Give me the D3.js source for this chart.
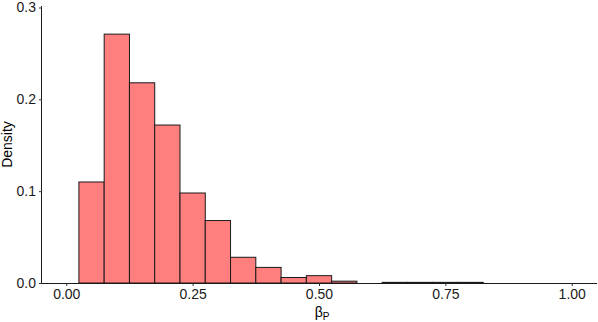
<!DOCTYPE html>
<html>
<head>
<meta charset="utf-8">
<script src="https://cdn.jsdelivr.net/npm/d3@7"></script>
<style>
  body { margin: 0; background: #fff; }
  text { font-family: "Liberation Sans", Arial, sans-serif; }
</style>
</head>
<body>
<div id="chart"></div>
<script>
// bin edges (left) and heights
const binStarts = [0.025, 0.075, 0.125, 0.175, 0.225, 0.275, 0.325, 0.375, 0.425, 0.475, 0.525, 0.575, 0.625, 0.675, 0.725, 0.775];
const densities = [0.110, 0.271, 0.218, 0.172, 0.098, 0.068, 0.028, 0.017, 0.006, 0.008, 0.002, 0, 0.0007, 0.0007, 0.0007, 0.0007];
const binWidth = 0.05;
const xTicks = [0, 0.25, 0.5, 0.75, 1.0];
const yTicks = [0, 0.1, 0.2, 0.3];

const width = 598, height = 322;
const plotLeft = 42, plotRight = 597, plotTop = 6, plotBottom = 283;

const svg = d3.select("#chart").append("svg")
    .attr("width", width)
    .attr("height", height);

const x = d3.scaleLinear()
    .domain([-0.048, 1.05])
    .range([plotLeft, plotRight]);

const y = d3.scaleLinear()
    .domain([0, 0.3])
    .range([plotBottom, 7.5]);

const bins = binStarts.map((s, i) => ({ x0: s, x1: s + binWidth, v: densities[i] }));

// bars
svg.append("g")
    .selectAll("rect")
    .data(bins.filter(d => d.v > 0))
    .enter()
    .append("rect")
    .attr("x", d => x(d.x0))
    .attr("y", d => y(d.v))
    .attr("width", d => x(d.x1) - x(d.x0))
    .attr("height", d => y(0) - y(d.v))
    .attr("fill", "#ff7f7f")
    .attr("stroke", "#1a1a1a")
    .attr("stroke-width", 1);

// x axis
const xAxis = svg.append("g")
    .attr("transform", `translate(0, ${plotBottom})`)
    .call(d3.axisBottom(x).tickValues(xTicks).tickFormat(d3.format(".2f")).tickSize(3).tickSizeOuter(0).tickPadding(3));
xAxis.select(".domain").attr("d", `M${plotLeft},0.5H${plotRight}`).attr("stroke", "#1a1a1a");
xAxis.selectAll(".tick line").attr("stroke", "#333");
xAxis.selectAll("text").attr("font-size", "14px").attr("fill", "#1a1a1a");

// y axis
const yAxis = svg.append("g")
    .attr("transform", `translate(${plotLeft}, 0)`)
    .call(d3.axisLeft(y).tickValues(yTicks).tickFormat(d3.format(".1f")).tickSize(3).tickSizeOuter(0).tickPadding(3));
yAxis.select(".domain").attr("d", `M-0.5,${plotTop}V${plotBottom}`).attr("stroke", "#1a1a1a");
yAxis.selectAll(".tick line").attr("stroke", "#333");
yAxis.selectAll("text").attr("font-size", "14px").attr("fill", "#1a1a1a");

// axis titles
svg.append("text")
    .attr("transform", `translate(12, ${(plotTop + plotBottom) / 2}) rotate(-90)`)
    .attr("text-anchor", "middle")
    .attr("font-size", "14px")
    .attr("fill", "#000")
    .text("Density");

const xt = svg.append("text")
    .attr("x", 322)
    .attr("y", 317)
    .attr("text-anchor", "middle")
    .attr("font-size", "14px")
    .attr("fill", "#000");
xt.append("tspan").text("β");
xt.append("tspan").attr("font-size", "10px").attr("dy", "3").text("P");
</script>
</body>
</html>
